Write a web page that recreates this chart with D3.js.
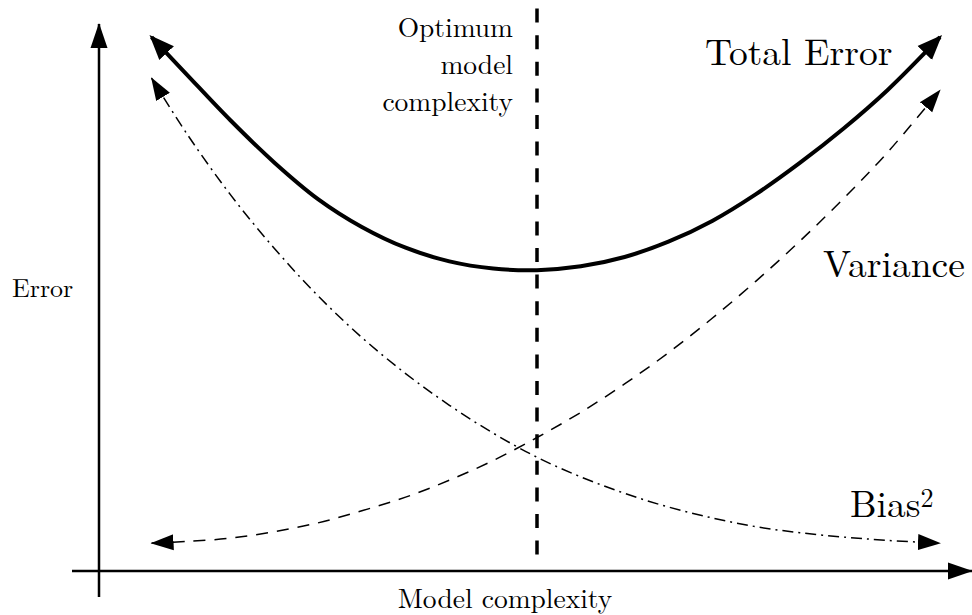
<!DOCTYPE html>
<head>
  <meta charset="utf-8">
  <style>
    body { margin: 0; background: #fff; }
    svg { display: block; }
  </style>
  <script src="https://cdn.jsdelivr.net/npm/d3@7/dist/d3.min.js"></script>
</head>
<body>
<div id=chart></div>
<script>
// values (model complexity 0..10, error 0..10)
const complexity = [0.6, 1, 1.5, 2, 2.5, 3, 3.5, 4, 4.5, 5, 5.5, 6, 6.5, 7, 7.5, 8, 8.5, 9, 9.6]
const total_error = [9.76, 9.08, 8.24, 7.47, 6.80, 6.29, 5.91, 5.66, 5.53, 5.50, 5.57, 5.74, 6.02, 6.40, 6.89, 7.46, 8.09, 8.79, 9.76]
const variance = [0.51, 0.54, 0.60, 0.72, 0.88, 1.10, 1.35, 1.66, 2.02, 2.44, 2.90, 3.42, 3.99, 4.62, 5.30, 6.03, 6.81, 7.65, 8.79]
const bias_sq = [9.01, 8.00, 6.88, 5.90, 5.03, 4.27, 3.61, 3.03, 2.52, 2.08, 1.72, 1.42, 1.17, 0.97, 0.81, 0.70, 0.62, 0.56, 0.51]
const optimum = 5.0
const optimum_span = [0.3, 10.3]

const width = 972, height = 615
const font = '"Latin Modern Roman", "Liberation Serif", serif'

const x = d3.scaleLinear().domain([0, 10]).range([99, 975])
const y = d3.scaleLinear().domain([0, 10]).range([571, 24])

const svg = d3.select('#chart').append('svg')
  .attr('width', width)
  .attr('height', height)
  .attr('viewBox', [0, 0, width, height])

// arrowheads
const defs = svg.append('defs')
const add_marker = (id, len, w, back) => {
  defs.append('marker')
    .attr('id', id)
    .attr('markerUnits', 'userSpaceOnUse')
    .attr('markerWidth', len + 2).attr('markerHeight', w + 2)
    .attr('viewBox', [0, -w / 2 - 1, len + 2, w + 2])
    .attr('refX', len - back).attr('refY', 0)
    .attr('orient', 'auto-start-reverse')
    .append('path')
    .attr('d', `M0,${-w / 2}L${len},0L0,${w / 2}Z`)
    .attr('fill', '#000')
}
add_marker('arrow-axis', 25, 17, 1)
add_marker('arrow-thick', 25, 20, 3)
add_marker('arrow-thin', 23, 16, 1)

// axes (no ticks, just arrows)
svg.append('line')
  .attr('x1', x(0)).attr('x2', x(0))
  .attr('y1', y(0) + 26).attr('y2', y(10))
  .attr('stroke', '#000').attr('stroke-width', 2.5)
  .attr('marker-end', 'url(#arrow-axis)')
svg.append('line')
  .attr('x1', x(0) - 27).attr('x2', width)
  .attr('y1', y(0)).attr('y2', y(0))
  .attr('stroke', '#000').attr('stroke-width', 2.5)
  .attr('marker-end', 'url(#arrow-axis)')

// optimum line, drawn bottom-up so the dashes start at the bottom
svg.append('line')
  .attr('x1', x(optimum)).attr('x2', x(optimum))
  .attr('y1', y(optimum_span[0])).attr('y2', y(optimum_span[1]))
  .attr('stroke', '#000').attr('stroke-width', 3.5)
  .attr('stroke-dasharray', '14,12.6')

// curves
const series = [
  { name: 'bias', values: bias_sq, width: 1.5, dash: '11,5,2,5', marker: 'arrow-thin' },
  { name: 'variance', values: variance, width: 1.5, dash: '12,9', marker: 'arrow-thin' },
  { name: 'total', values: total_error, width: 4, dash: null, marker: 'arrow-thick' },
]
const line = d3.line()
  .x(d => x(d[0]))
  .y(d => y(d[1]))
  .curve(d3.curveCatmullRom.alpha(0.5))

svg.append('g').selectAll('path').data(series).join('path')
  .attr('d', s => line(complexity.map((c, i) => [c, s.values[i]])))
  .attr('fill', 'none')
  .attr('stroke', '#000')
  .attr('stroke-width', s => s.width)
  .attr('stroke-dasharray', s => s.dash)
  .attr('marker-start', s => `url(#${s.marker})`)
  .attr('marker-end', s => `url(#${s.marker})`)

// labels
const label = (txt, px, py, size, anchor = 'start') => svg.append('text')
  .attr('x', px).attr('y', py)
  .style('font-family', font)
  .style('font-size', size + 'px')
  .attr('text-anchor', anchor)
  .attr('fill', '#000')
  .text(txt)

label('Total Error', 705, 65, 37.5)
label('Variance', 823, 277, 37.5)
label('Bias', 850, 517, 37.5)
  .append('tspan').style('font-size', '26px').attr('dy', -10).text('2')
label('Optimum', 513, 37, 27.5, 'end')
label('model', 513, 74, 27.5, 'end')
label('complexity', 513, 111, 27.5, 'end')
label('Error', 12, 297, 26)
label('Model complexity', 505, 608, 27.5, 'middle')
</script>
</body>
